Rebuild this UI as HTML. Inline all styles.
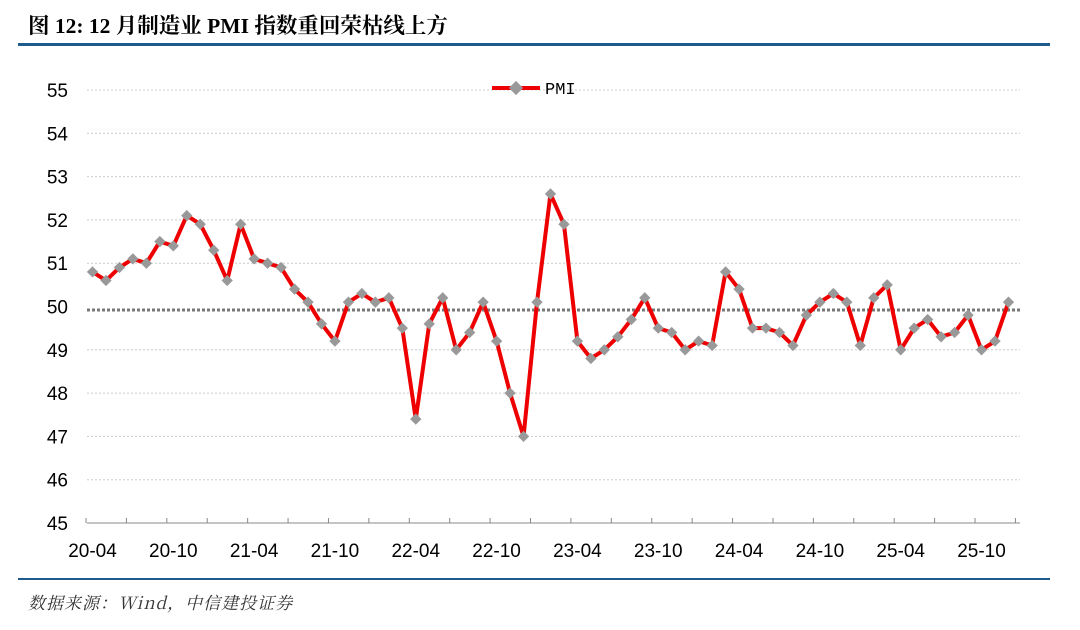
<!DOCTYPE html>
<html><head><meta charset="utf-8"><style>
body{margin:0;background:#fff;width:1080px;height:625px;overflow:hidden;font-family:"Liberation Sans","Noto Sans CJK SC",sans-serif}
</style></head><body>
<svg id="s" width="1080" height="625" xmlns="http://www.w3.org/2000/svg">
<text x="28" y="33" font-size="21.5" font-weight="bold" font-family="Liberation Serif,'Noto Serif CJK SC',serif" fill="#000">图 12: 12 月制造业 PMI 指数重回荣枯线上方</text>
<rect x="18" y="43" width="1032" height="3" fill="#1f5b8c"/>
<rect x="18" y="578" width="1032" height="2" fill="#1f5b8c"/>
<text x="28" y="609" font-size="17" letter-spacing="1" font-style="italic" font-family="'Noto Serif CJK SC',serif" fill="#333">数据来源：Wind，中信建投证券</text>
<g id="g"></g>
<line x1="492" y1="88" x2="540" y2="88" stroke="#e00" stroke-width="4"/>
<rect x="511" y="83" width="10" height="10" fill="#999" transform="rotate(45 516 88)"/>
<text x="545" y="94" font-size="17" font-family="Liberation Mono,monospace" fill="#000">PMI</text>
</svg>
<script>
var d=[50.8,50.6,50.9,51.1,51.0,51.5,51.4,52.1,51.9,51.3,50.6,51.9,51.1,51.0,50.9,50.4,50.1,49.6,49.2,50.1,50.3,50.1,50.2,49.5,47.4,49.6,50.2,49.0,49.4,50.1,49.2,48.0,47.0,50.1,52.6,51.9,49.2,48.8,49.0,49.3,49.7,50.2,49.5,49.4,49.0,49.2,49.1,50.8,50.4,49.5,49.5,49.4,49.1,49.8,50.1,50.3,50.1,49.1,50.2,50.5,49.0,49.5,49.7,49.3,49.4,49.8,49.0,49.2,50.1];
var X=i=>92.5+13.47*i,Y=v=>523-(v-45)*43.3,h='';
for(var v=46;v<=55;v++){if(v!=50)h+='<line x1="87" x2="1020" y1="'+Y(v)+'" y2="'+Y(v)+'" stroke="#ccc" stroke-dasharray="2,2"/>';}
for(var v=45;v<=55;v++)h+='<text x="68" y="'+(Y(v)+7)+'" font-size="19" text-anchor="end" fill="#000">'+v+'</text>';
h+='<line x1="87" x2="1020" y1="'+Y(49.92)+'" y2="'+Y(49.92)+'" stroke="#777" stroke-width="3" stroke-dasharray="3,2"/>';
h+='<line x1="87" x2="1020" y1="523" y2="523" stroke="#888"/>';
for(var i=0;i<=69;i+=3){var x=86+13.47*i;h+='<line x1="'+x+'" x2="'+x+'" y1="518" y2="523" stroke="#888"/>';}
var L=['20-04','20-10','21-04','21-10','22-04','22-10','23-04','23-10','24-04','24-10','25-04','25-10'];
L.forEach((l,k)=>{h+='<text x="'+X(6*k)+'" y="557" font-size="19" text-anchor="middle" fill="#000">'+l+'</text>';});
h+='<polyline fill="none" stroke="#e00" stroke-width="4" stroke-linejoin="round" points="'+d.map((v,i)=>X(i)+','+Y(v)).join(' ')+'"/>';
d.forEach((v,i)=>{var x=X(i),y=Y(v);h+='<rect x="'+(x-4)+'" y="'+(y-4)+'" width="8" height="8" fill="#999" transform="rotate(45 '+x+' '+y+')"/>';});
document.getElementById('g').innerHTML=h;
</script>
</body></html>
